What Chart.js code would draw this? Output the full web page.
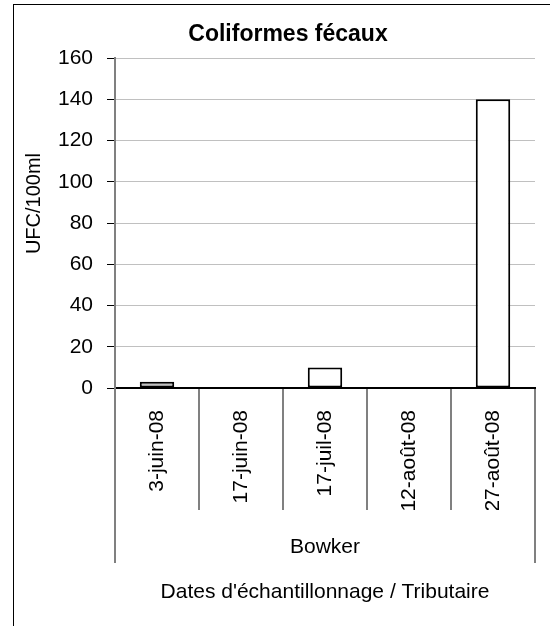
<!DOCTYPE html>
<html>
<head>
<meta charset="utf-8">
<script src="https://cdn.jsdelivr.net/npm/chart.js@4"></script>
<style>
  html, body { margin: 0; padding: 0; background: #fff; overflow: hidden; }
  #frame { position: absolute; left: 13px; top: 4px; width: 560px; height: 700px; border-left: 1px solid #000; border-top: 1px solid #000; }
  #c { position: absolute; left: 0; top: 0; }
</style>
</head>
<body>
<div id="frame"></div>
<canvas id="c" width="550" height="626"></canvas>
<script>
const chartTitle = 'Coliformes fécaux';
const categories = ['3-juin-08', '17-juin-08', '17-juil-08', '12-août-08', '27-août-08'];
const tributaries = ['Bowker'];
const values = [3, null, 10, null, 140];
const barColors = ['#c0c0c0', '#ffffff', '#ffffff', '#ffffff', '#ffffff'];
const yMin = 0, yMax = 160, yStep = 20;
const yTitle = '       UFC/100ml';
const xTitle = "Dates d'échantillonnage / Tributaire";

Chart.defaults.font.family = "'Liberation Sans', Arial, sans-serif";
Chart.defaults.color = '#000';

new Chart(document.getElementById('c'), {
  type: 'bar',
  data: {
    labels: categories,
    datasets: [{
      data: values,
      backgroundColor: barColors,
      borderColor: '#000',
      borderWidth: 2,
      borderSkipped: false,
      barPercentage: 0.41,
      categoryPercentage: 1,
      xAxisID: 'x',
      yAxisID: 'y'
    }]
  },
  options: {
    responsive: false,
    animation: false,
    devicePixelRatio: 1,
    layout: { padding: { left: 26, right: 0, top: 0, bottom: 0 } },
    plugins: {
      legend: { display: false },
      tooltip: { enabled: false },
      title: {
        display: true,
        text: chartTitle,
        font: { size: 23, weight: 'bold' },
        color: '#000',
        padding: { top: 21.2, bottom: 9.2 }
      }
    },
    scales: {
      x: {
        type: 'category',
        position: 'bottom',
        weight: 0,
        offset: true,
        grid: {
          offset: true,
          drawOnChartArea: false,
          drawTicks: true,
          tickLength: 122,
          tickColor: '#808080',
          tickWidth: 2,
          color: '#808080',
          lineWidth: 2
        },
        border: { display: true, color: '#000', width: 2 },
        ticks: {
          minRotation: 90,
          maxRotation: 90,
          autoSkip: false,
          padding: -100,
          font: { size: 21 },
          color: '#000'
        },
        afterFit: s => { s.height = 122; }
      },
      x2: {
        type: 'category',
        position: 'bottom',
        weight: 1,
        labels: tributaries,
        offset: true,
        grid: {
          offset: true,
          drawOnChartArea: false,
          drawTicks: true,
          tickLength: 53,
          tickColor: '#808080',
          tickWidth: 2,
          color: '#808080',
          lineWidth: 2
        },
        border: { display: false },
        ticks: {
          maxRotation: 0,
          padding: -28.6,
          font: { size: 21 },
          color: '#000'
        },
        title: {
          display: true,
          text: xTitle,
          font: { size: 21 },
          color: '#000',
          padding: { top: 0, bottom: 21.4 }
        },
        afterFit: s => { s.height = 116; }
      },
      y: {
        type: 'linear',
        position: 'left',
        min: yMin,
        max: yMax,
        ticks: {
          stepSize: yStep,
          padding: 14,
          font: { size: 21 },
          color: '#000'
        },
        grid: {
          color: '#c0c0c0',
          lineWidth: 1,
          drawTicks: true,
          tickLength: 8,
          tickColor: '#000',
          tickWidth: 1
        },
        border: { display: true, color: '#808080', width: 2 },
        title: {
          display: true,
          text: yTitle,
          font: { size: 20 },
          color: '#000',
          padding: { top: -4, bottom: 0 }
        },
        afterFit: s => { s.width = 89; }
      },
      yR: {
        type: 'linear',
        position: 'right',
        min: yMin,
        max: yMax,
        display: true,
        grid: { display: false, drawTicks: false },
        border: { display: false },
        ticks: { display: false },
        afterFit: s => { s.width = 15; }
      }
    }
  }
});
</script>
</body>
</html>
